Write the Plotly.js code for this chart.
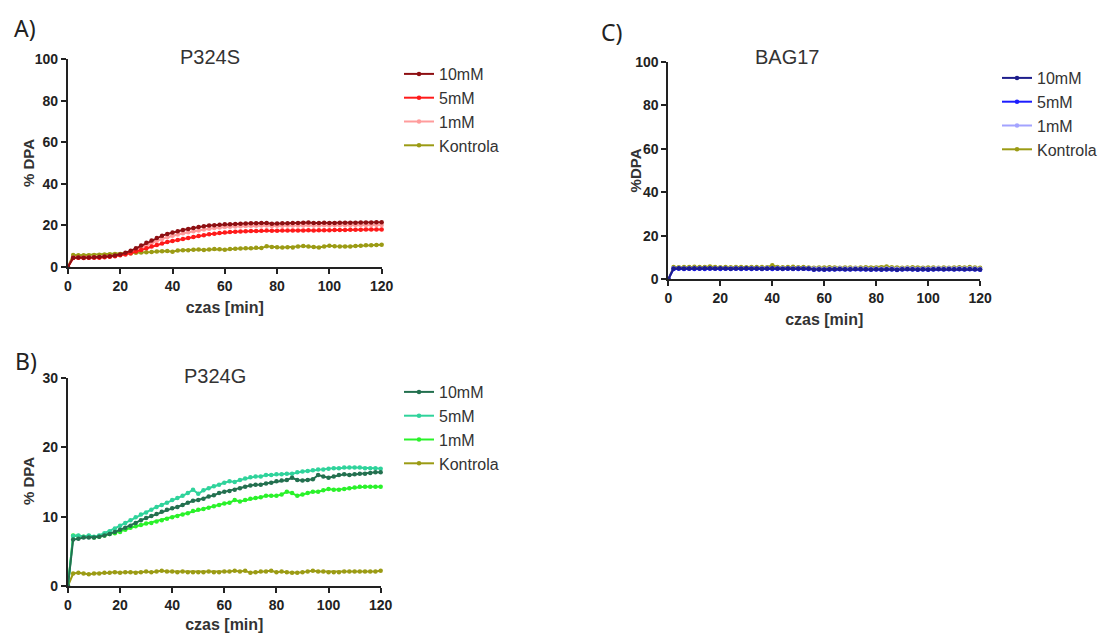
<!DOCTYPE html>
<html>
<head>
<meta charset="utf-8">
<script src="https://cdn.plot.ly/plotly-3.0.1.min.js"></script>
<style>
html,body{margin:0;padding:0;background:#fff;}
#chart{width:1102px;height:633px;}
</style>
</head>
<body>
<div id="chart"></div>
<script>
// time points (min)
const czas = [];
for (let t = 0; t <= 120; t += 2) czas.push(t);

const seriesNames = ["10mM", "5mM", "1mM", "Kontrola"];
const xTicks = [0, 20, 40, 60, 80, 100, 120];
const yTicksAC = [0, 20, 40, 60, 80, 100];
const yTicksB = [0, 10, 20, 30];
const panelTitles = ["P324S", "P324G", "BAG17"];
const panelLabels = ["A)", "B)", "C)"];
const yTitles = ["% DPA", "% DPA", "%DPA"];
const xTitle = "czas [min]";

// Panel A: P324S
const A_10mM = [0,4.5,4.6,4.5,4.6,4.7,4.8,5.0,5.2,5.5,
  6.0,6.8,7.8,9.0,10.3,11.6,12.8,14.0,15.0,15.9,
  16.6,17.2,17.8,18.3,18.8,19.2,19.6,19.9,20.1,20.3,
  20.5,20.6,20.7,20.8,20.9,21.0,21.0,21.1,21.2,20.8,
  20.9,21.0,21.0,21.1,21.1,21.3,21.4,21.2,21.2,21.3,
  21.2,21.2,21.3,21.3,21.3,21.3,21.4,21.4,21.4,21.5,
  21.5];
const A_5mM = [0,4.3,4.4,4.3,4.4,4.4,4.5,4.7,4.9,5.2,
  5.6,6.0,6.6,7.4,8.2,9.0,9.8,10.6,11.3,12.0,
  12.5,13.0,13.5,14.0,14.4,14.9,15.3,15.7,16.0,16.3,
  16.6,16.8,17.0,17.1,17.2,17.3,17.3,17.4,17.5,17.4,
  17.4,17.5,17.5,17.6,17.6,17.6,17.7,17.6,17.7,17.7,
  17.7,17.8,17.8,17.8,17.9,17.9,17.9,18.0,18.0,18.0,
  18.0];
const A_1mM = [0,4.4,4.5,4.4,4.5,4.6,4.7,4.8,5.0,5.3,
  5.8,6.5,7.3,8.3,9.4,10.5,11.6,12.6,13.5,14.3,
  15.0,15.6,16.2,16.7,17.2,17.6,18.0,18.4,18.7,19.0,
  19.2,19.4,19.5,19.6,19.7,19.8,19.8,19.9,19.9,19.7,
  19.8,19.8,19.9,19.9,20.0,20.0,20.1,20.0,20.0,20.1,
  20.0,20.1,20.1,20.1,20.1,20.2,20.2,20.2,20.2,20.2,
  20.2];
const A_Kontrola = [0,5.8,5.6,5.7,5.7,5.8,5.9,6.0,6.1,6.2,
  6.3,6.4,6.6,6.8,7.0,7.1,7.2,7.5,7.6,7.7,
  7.3,7.9,8.0,8.0,8.3,8.4,8.2,8.4,8.6,8.5,
  8.3,8.7,8.8,8.9,9.0,9.0,9.2,9.1,10.0,9.6,
  9.5,9.4,9.5,9.4,9.8,10.1,9.9,9.6,9.4,9.9,
  10.2,10.0,9.9,9.8,9.9,10.1,10.2,10.4,10.5,10.6,
  10.7];

// Panel B: P324G
const B_10mM = [0,6.7,6.8,7.0,7.0,7.0,7.1,7.3,7.5,7.8,
  8.1,8.4,8.7,9.1,9.5,9.8,10.1,10.4,10.7,11.0,
  11.2,11.4,11.7,12.0,12.3,12.4,12.6,12.9,13.1,13.4,
  13.6,13.7,13.9,14.1,14.3,14.5,14.6,14.6,14.8,14.9,
  15.1,15.2,15.3,15.6,15.3,15.2,15.3,15.4,16.0,15.8,
  15.6,15.8,16.0,16.1,16.0,16.1,16.2,16.2,16.3,16.4,
  16.4];
const B_5mM = [0,7.2,7.3,7.1,7.3,7.1,7.3,7.6,7.9,8.3,
  8.7,9.1,9.5,9.9,10.3,10.6,11.0,11.4,11.7,12.0,
  12.4,12.7,13.0,13.4,13.9,13.3,13.8,14.1,14.4,14.6,
  14.9,15.1,15.0,15.3,15.5,15.7,15.8,15.8,16.0,16.0,
  16.1,16.1,16.2,16.2,16.4,16.5,16.6,16.7,16.8,16.8,
  16.9,17.0,17.0,17.1,17.1,17.1,17.1,17.0,17.0,17.0,
  16.9];
const B_1mM = [0,7.3,7.2,7.1,7.2,7.0,7.1,7.3,7.5,7.6,
  7.8,8.1,8.4,8.6,8.8,9.0,9.1,9.3,9.5,9.7,
  9.9,10.1,10.3,10.5,10.8,11.0,11.1,11.3,11.5,11.7,
  11.9,12.0,12.4,12.2,12.4,12.6,12.7,12.8,13.0,13.0,
  13.0,13.2,13.6,13.4,13.0,13.2,13.4,13.6,13.6,13.8,
  14.0,13.9,13.9,14.0,14.1,14.2,14.3,14.3,14.3,14.3,
  14.3];
const B_Kontrola = [0,1.8,1.9,1.8,1.7,1.8,1.8,1.9,1.9,2.0,
  1.9,2.0,2.0,1.9,2.0,2.1,2.0,2.1,2.2,2.1,
  2.1,2.0,2.1,2.0,2.0,2.0,2.0,2.1,2.0,2.0,
  2.1,2.1,2.2,2.1,2.2,1.9,2.0,2.1,2.1,2.2,
  2.0,2.1,2.0,1.9,1.9,2.0,2.1,2.2,2.1,2.1,
  2.0,2.0,2.0,2.1,2.1,2.1,2.1,2.1,2.1,2.1,
  2.2];

// Panel C: BAG17
const C_10mM = [0,4.8,4.9,4.8,4.8,4.9,4.8,4.9,4.9,4.8,
  4.9,4.8,4.7,4.8,4.8,4.9,4.8,4.8,4.7,4.8,
  4.9,4.8,4.7,4.8,4.7,4.8,4.7,4.8,4.4,4.5,
  4.4,4.5,4.5,4.6,4.5,4.5,4.6,4.6,4.5,4.4,
  4.5,4.4,4.5,4.5,4.3,4.5,4.6,4.5,4.4,4.5,
  4.4,4.5,4.6,4.5,4.6,4.5,4.6,4.5,4.6,4.5,
  4.4];
const C_5mM = [0,4.6,4.7,4.6,4.7,4.6,4.7,4.6,4.7,4.7,
  4.6,4.7,4.6,4.7,4.6,4.7,4.6,4.7,4.6,4.7,
  4.6,4.7,4.6,4.7,4.6,4.6,4.7,4.6,4.3,4.4,
  4.3,4.4,4.4,4.5,4.4,4.4,4.5,4.4,4.4,4.3,
  4.4,4.3,4.4,4.4,4.2,4.4,4.5,4.4,4.3,4.4,
  4.3,4.4,4.5,4.4,4.5,4.4,4.5,4.4,4.5,4.4,
  4.3];
const C_1mM = [0,5.0,5.1,5.0,5.0,5.1,5.0,5.1,5.0,5.0,
  5.1,5.0,5.0,5.1,5.0,5.0,5.1,5.0,5.0,5.1,
  5.0,5.1,5.0,5.0,5.0,5.1,5.0,5.0,4.8,4.8,
  4.7,4.8,4.8,4.9,4.8,4.8,4.9,4.8,4.8,4.7,
  4.8,4.7,4.8,4.8,4.7,4.8,4.9,4.8,4.7,4.8,
  4.7,4.8,4.9,4.8,4.9,4.8,4.9,4.8,4.9,4.8,
  4.7];
const C_Kontrola = [0,5.5,5.4,5.5,5.5,5.6,5.5,5.5,5.8,5.5,
  5.4,5.5,5.4,5.5,5.5,5.4,5.5,5.5,5.5,5.4,
  6.3,5.5,5.4,5.5,5.6,5.4,5.5,5.3,5.2,5.3,
  5.3,5.4,5.3,5.2,5.3,5.3,5.2,5.3,5.4,5.3,
  5.3,5.4,5.8,5.4,5.3,5.2,5.3,5.4,5.3,5.2,
  5.3,5.3,5.2,5.3,5.2,5.3,5.4,5.3,5.5,5.3,
  5.2];

const colorsA = ["#8e0f12", "#ff1a1a", "#ff9c9c", "#9b9b14"];
const colorsB = ["#23704f", "#2fd39b", "#2af22a", "#9b9b14"];
const colorsC = ["#1e1e8c", "#1c1cff", "#a3a3ff", "#9b9b14"];

const panels = [
  {data: [A_10mM, A_5mM, A_1mM, A_Kontrola], colors: colorsA, xa: "x", ya: "y", legend: "legend"},
  {data: [B_10mM, B_5mM, B_1mM, B_Kontrola], colors: colorsB, xa: "x2", ya: "y2", legend: "legend2"},
  {data: [C_10mM, C_5mM, C_1mM, C_Kontrola], colors: colorsC, xa: "x3", ya: "y3", legend: "legend3"}
];

const traces = [];
panels.forEach((p, pi) => {
  // draw Kontrola first so the dose series sit on top; legend order set by legendrank
  for (let i = seriesNames.length - 1; i >= 0; i--) {
    traces.push({
      type: "scatter",
      mode: "lines+markers",
      x: czas,
      y: p.data[i],
      name: seriesNames[i],
      xaxis: p.xa,
      yaxis: p.ya,
      legend: p.legend,
      legendgroup: "p" + pi + "s" + i,
      legendrank: 10 + i,
      cliponaxis: false,
      line: {color: p.colors[i], width: 2},
      marker: {color: p.colors[i], size: 4.5, symbol: "circle"}
    });
  }
});

const W = 1102, H = 633;
const px = v => v / W;
const py = v => 1 - v / H;

const FAM = "Liberation Sans, Arial, sans-serif";
const tickFont = {family: FAM, size: 14, color: "#222", weight: "bold"};
const axTitleFont = {family: FAM, size: 16, color: "#333", weight: "bold"};
const yTitleFont = {family: FAM, size: 15, color: "#333", weight: "bold"};

function xAxis(d0, d1, anchor) {
  return {
    domain: [px(d0), px(d1)], anchor: anchor,
    range: [0, 120], tickvals: xTicks, ticktext: xTicks.map(String),
    showgrid: false, zeroline: false,
    showline: true, linecolor: "#222", linewidth: 2,
    ticks: "outside", ticklen: 5, tickwidth: 2, tickcolor: "#222",
    tickfont: tickFont,
    title: {text: xTitle, font: axTitleFont, standoff: 9},
    fixedrange: true
  };
}
function yAxis(t0, t1, anchor, rng, vals) {
  return {
    domain: [py(t1), py(t0)], anchor: anchor,
    range: rng, tickvals: vals, ticktext: vals.map(String),
    showgrid: false, zeroline: false,
    showline: true, linecolor: "#222", linewidth: 2,
    ticks: "outside", ticklen: 5, tickwidth: 2, tickcolor: "#222",
    tickfont: tickFont,
    fixedrange: true
  };
}

const legendFont = {family: FAM, size: 16, color: "#333"};
function legendAt(x, y) {
  return {
    x: px(x), y: py(y), xanchor: "left", yanchor: "top",
    bgcolor: "rgba(0,0,0,0)", borderwidth: 0,
    font: legendFont, traceorder: "grouped", tracegroupgap: 0,
    itemwidth: 30
  };
}

const titleFont = {family: FAM, size: 20, color: "#333"};
const labelFont = {family: "Noto Sans, Open Sans, sans-serif", size: 23, color: "#222"};

function ann(text, x, y, font, angle) {
  return {text: text, x: px(x), y: py(y), xref: "paper", yref: "paper", showarrow: false,
    font: font, xanchor: "center", yanchor: "middle", textangle: angle || 0};
}

const layout = {
  width: W, height: H,
  margin: {l: 0, r: 0, t: 0, b: 0},
  paper_bgcolor: "#fff", plot_bgcolor: "rgba(0,0,0,0)",
  showlegend: true,
  xaxis: xAxis(68, 382, "y"),
  yaxis: yAxis(59, 267, "x", [0, 100], yTicksAC),
  xaxis2: xAxis(68, 381, "y2"),
  yaxis2: yAxis(378, 586, "x2", [0, 30], yTicksB),
  xaxis3: xAxis(669, 981, "y3"),
  yaxis3: yAxis(62, 279, "x3", [0, 100], yTicksAC),
  legend: legendAt(399, 57),
  legend2: legendAt(399, 375),
  legend3: legendAt(998, 61),
  annotations: [
    ann(panelTitles[0], 210, 57, titleFont),
    ann(panelTitles[1], 215, 376, titleFont),
    ann(panelTitles[2], 788, 57, titleFont),
    ann(panelLabels[0], 25, 28, labelFont),
    ann(panelLabels[1], 26, 361, labelFont),
    ann(panelLabels[2], 612, 32, labelFont),
    ann(yTitles[0], 28, 163, yTitleFont, -90),
    ann(yTitles[1], 28, 481, yTitleFont, -90),
    ann(yTitles[2], 637, 170, yTitleFont, -90)
  ]
};

Plotly.newPlot("chart", traces, layout, {displayModeBar: false, staticPlot: true});
</script>
</body>
</html>
